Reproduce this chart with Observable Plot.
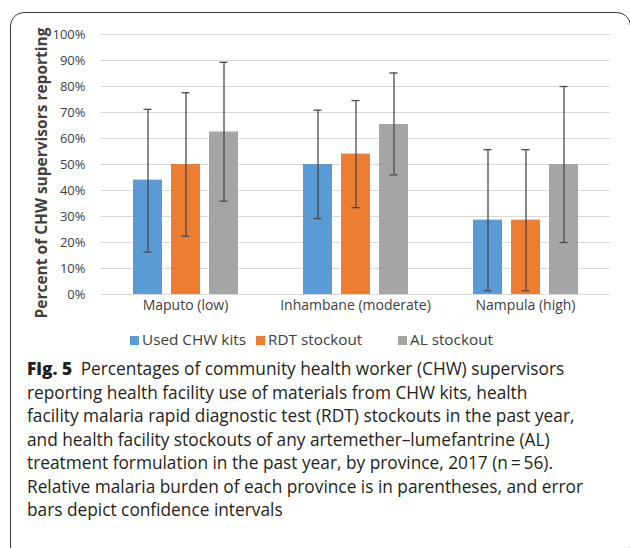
<!DOCTYPE html>
<html>
<head>
<meta charset="utf-8">
<script src="https://cdn.jsdelivr.net/npm/d3@7"></script>
<script src="https://cdn.jsdelivr.net/npm/@observablehq/plot@0.6"></script>
<style>
  html, body { margin: 0; padding: 0; background: #fff; }
  body { width: 630px; height: 548px; overflow: hidden; position: relative; font-family: "Open Sans", sans-serif; }
  #frame { position: absolute; left: 10px; top: 12px; width: 621px; height: 548px; box-sizing: border-box;
           border: 1.2px solid #3a3a3a; border-radius: 14px; }
  #chart { position: absolute; left: 0; top: 0; }
  #ytitle { position: absolute; width: 320px; left: -119px; top: 163px; height: 20px; line-height: 20px;
            text-align: center; transform: rotate(-90deg); transform-origin: 50% 50%;
            font-weight: 700; font-size: 15.5px; color: #404040; white-space: nowrap; }
  .lg { position: absolute; top: 329px; height: 20px; line-height: 20px; font-size: 15.3px; color: #404040; white-space: nowrap; }
  .lg span.sw { display: inline-block; width: 9px; height: 9px; margin-right: 3px; vertical-align: 0px; }
  #caption { position: absolute; left: 27px; top: 357px; font-family: "Open Sans", sans-serif; font-size: 17.3px;
             line-height: 23.5px; color: #231f20; white-space: nowrap; }
  #chart svg g[aria-label^="fx-axis"] text { font-size: 14px; }
</style>
</head>
<body>
<div id="frame"></div>
<div id="chart"></div>
<div id="ytitle">Percent of CHW supervisors reporting</div>
<div id="legend"></div>
<div id="caption"></div>
<script>
// ---- data ----
const provinces = ["Maputo (low)", "Inhambane (moderate)", "Nampula (high)"];
const seriesNames = ["Used CHW kits", "RDT stockout", "AL stockout"];
const seriesColors = ["#5b9bd5", "#ed7d31", "#a5a5a5"];
const usedKits  = [0.44, 0.50, 0.286];
const rdtStock  = [0.50, 0.54, 0.286];
const alStock   = [0.625, 0.654, 0.50];
const usedLow   = [0.163, 0.292, 0.014];
const usedHigh  = [0.712, 0.709, 0.557];
const rdtLow    = [0.224, 0.334, 0.014];
const rdtHigh   = [0.776, 0.746, 0.557];
const alLow     = [0.359, 0.460, 0.200];
const alHigh    = [0.893, 0.852, 0.800];
const yTicks = [0, 0.1, 0.2, 0.3, 0.4, 0.5, 0.6, 0.7, 0.8, 0.9, 1.0];
const captionBold = "Fig. 5";
const captionLines = [
  "Percentages of community health worker (CHW) supervisors",
  "reporting health facility use of materials from CHW kits, health",
  "facility malaria rapid diagnostic test (RDT) stockouts in the past year,",
  "and health facility stockouts of any artemether–lumefantrine (AL)",
  "treatment formulation in the past year, by province, 2017 (n\u2009=\u200956).",
  "Relative malaria burden of each province is in parentheses, and error",
  "bars depict confidence intervals"
];

// ---- table ----
const vals = [usedKits, rdtStock, alStock];
const lows = [usedLow, rdtLow, alLow];
const highs = [usedHigh, rdtHigh, alHigh];
const rows = [];
seriesNames.forEach((s, si) => provinces.forEach((p, pi) => {
  rows.push({province: p, series: s, value: vals[si][pi], low: lows[si][pi], high: highs[si][pi]});
}));

const errColor = "#4a4a4a";
const plot = Plot.plot({
  width: 630,
  height: 320,
  marginTop: 34,
  marginBottom: 26,
  marginLeft: 100,
  marginRight: 20,
  style: {fontFamily: "Open Sans, sans-serif", fontSize: "13px", color: "#404040", background: "transparent"},
  fx: {domain: provinces, padding: 0, axis: "bottom", tickSize: 0, tickPadding: 6, label: null},
  x: {domain: seriesNames, paddingInner: 0.237, paddingOuter: 0.855, axis: null},
  y: {domain: [0, 1], ticks: yTicks, tickFormat: d3.format(".0%"), tickSize: 0, tickPadding: 15, label: null},
  color: {domain: seriesNames, range: seriesColors},
  marks: [
    Plot.ruleY(yTicks, {stroke: "#d9d9d9", strokeWidth: 1}),
    Plot.barY(rows, {fx: "province", x: "series", y: "value", fill: "series"}),
    Plot.ruleX(rows, {fx: "province", x: "series", y1: "low", y2: "high", stroke: errColor, strokeWidth: 1.3}),
    Plot.tickY(rows, {fx: "province", x: "series", y: "low", stroke: errColor, strokeWidth: 1.3, insetLeft: 10.5, insetRight: 10.5}),
    Plot.tickY(rows, {fx: "province", x: "series", y: "high", stroke: errColor, strokeWidth: 1.3, insetLeft: 10.5, insetRight: 10.5})
  ]
});
document.getElementById("chart").appendChild(plot);

// ---- legend ----
const legendLeft = [130, 256, 398];
const legend = document.getElementById("legend");
seriesNames.forEach((s, i) => {
  const d = document.createElement("div");
  d.className = "lg";
  d.style.left = legendLeft[i] + "px";
  const sw = document.createElement("span");
  sw.className = "sw";
  sw.style.background = seriesColors[i];
  d.appendChild(sw);
  d.appendChild(document.createTextNode(s));
  legend.appendChild(d);
});

// ---- caption ----
const cap = document.getElementById("caption");
captionLines.forEach((line, i) => {
  const div = document.createElement("div");
  if (i === 0) {
    const b = document.createElement("b");
    b.textContent = captionBold;
    b.style.fontWeight = "800";
    div.appendChild(b);
    div.appendChild(document.createTextNode("\u2002" + line));
  } else {
    div.textContent = line;
  }
  cap.appendChild(div);
});
</script>
</body>
</html>
